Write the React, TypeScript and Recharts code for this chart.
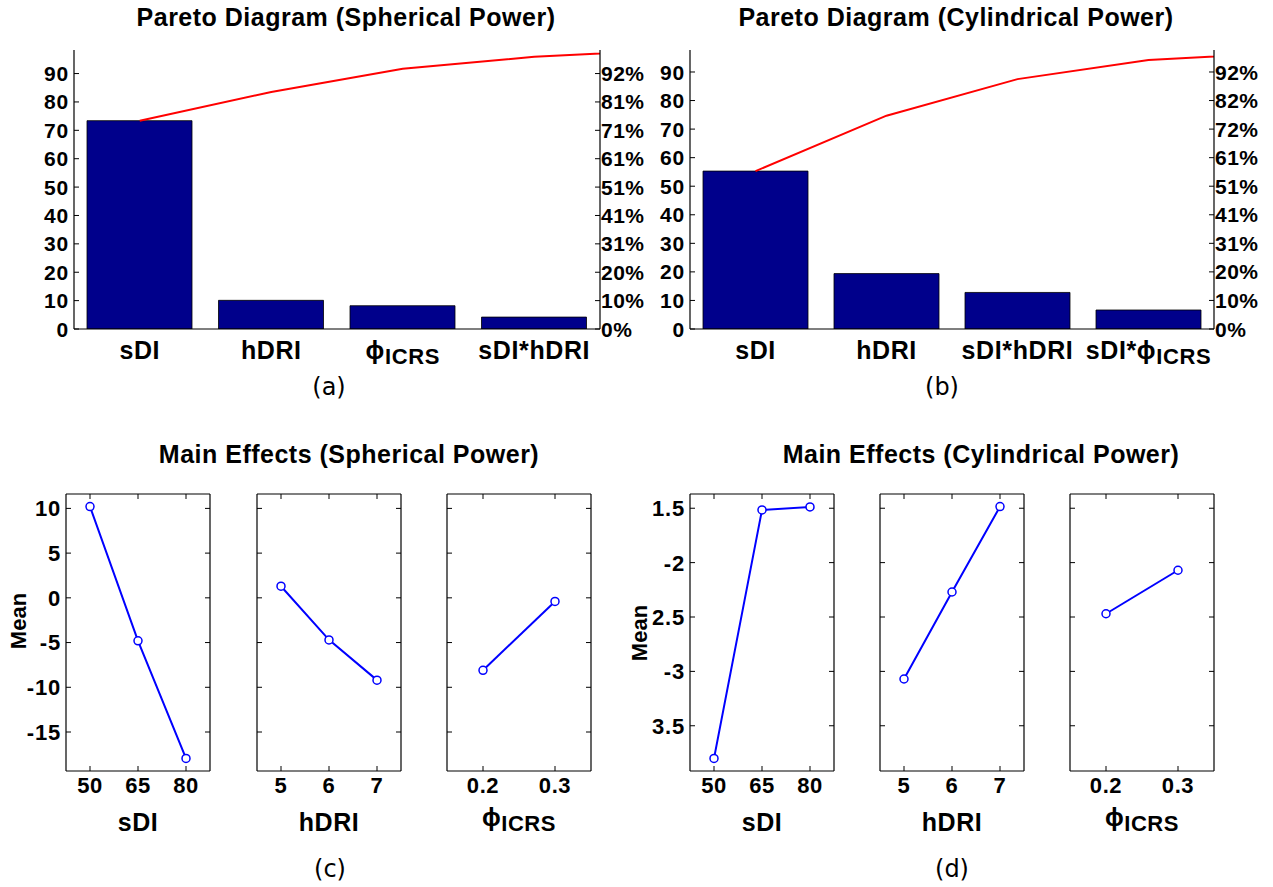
import React from 'react';
import { ComposedChart, LineChart, Bar, Line, XAxis, YAxis } from 'recharts';

const BOLD = '"Liberation Sans", Arial, Helvetica, sans-serif';
const CAPTION = '"DejaVu Sans", Verdana, sans-serif';

// Pareto (a): spherical power
const sphFactors = ['sDI', 'hDRI', 'ϕ_ICRS', 'sDI*hDRI'];
const sphEffects = [73.4, 10.1, 8.2, 4.2];
const sphCumulative = [73.4, 83.5, 91.7, 95.9, 98.3]; // last point lies past the axis
const sphTotal = 98.3;

// Pareto (b): cylindrical power
const cylFactors = ['sDI', 'hDRI', 'sDI*hDRI', 'sDI*ϕ_ICRS'];
const cylEffects = [55.3, 19.4, 12.8, 6.65];
const cylCumulative = [55.3, 74.7, 87.5, 94.2, 96.6];
const cylTotal = 97.7;

const paretoTicks = [0, 10, 20, 30, 40, 50, 60, 70, 80, 90];

// Main effects
const sdiLevels = ['50', '65', '80'];
const hdriLevels = ['5', '6', '7'];
const phiLevels = ['0.2', '0.3'];

const sphMeanSdi = [10.2, -4.8, -17.95];
const sphMeanHdri = [1.3, -4.7, -9.2];
const sphMeanPhi = [-8.1, -0.4];
const sphMeanDomain = [-19.36, 11.61];
const sphMeanTicks = [-15, -10, -5, 0, 5, 10];
const sphMeanTickLabels = ['-15', '-10', '-5', '0', '5', '10'];

const cylMeanSdi = [-3.8, -1.515, -1.488];
const cylMeanHdri = [-3.07, -2.27, -1.485];
const cylMeanPhi = [-2.47, -2.07];
const cylMeanDomain = [-3.916, -1.369];
const cylMeanTicks = [-3.5, -3, -2.5, -2, -1.5];
const cylMeanTickLabels = ['3.5', '-3', '2.5', '-2', '1.5'];

const AXIS = { stroke: '#000', strokeWidth: 1.2 };
const TXT = { fontFamily: BOLD, fontWeight: 'bold' as const, fill: '#000' };

// "ϕ_ICRS" -> ϕ with ICRS as a subscript
function labelSpans(text: string, size: number) {
  const [main, sub] = text.split('_');
  return (
    <>
      <tspan>{main}</tspan>
      {sub ? <tspan fontSize={size - 3} dy={5}>{sub}</tspan> : null}
    </>
  );
}

const leftTick = (size: number, fmt: (v: number) => string) => (p: any) => (
  <g>
    <line x1={p.x} x2={p.x + 5} y1={p.y} y2={p.y} stroke="#000" />
    <text x={p.x - 5} y={p.y} dy="0.36em" textAnchor="end" fontSize={size} letterSpacing={0.8} {...TXT}>
      {fmt(p.payload.value)}
    </text>
  </g>
);

const rightTick = (size: number, fmt: ((v: number) => string) | null) => (p: any) => (
  <g>
    <line x1={p.x} x2={p.x - 5} y1={p.y} y2={p.y} stroke="#000" />
    {fmt ? (
      <text x={p.x + 1} y={p.y} dy="0.36em" textAnchor="start" fontSize={size} letterSpacing={0.5} {...TXT}>
        {fmt(p.payload.value)}
      </text>
    ) : null}
  </g>
);

const bottomTick = (labels: string[], size: number, gap: number, tickLen: number) => (p: any) => (
  <g>
    {tickLen > 0 ? <line x1={p.x} x2={p.x} y1={p.y} y2={p.y - tickLen} stroke="#000" /> : null}
    <text x={p.x} y={p.y + gap} textAnchor="middle" fontSize={size} letterSpacing={0.6} {...TXT}>
      {labelSpans(labels[p.payload.value - 1], size)}
    </text>
  </g>
);

const topTick = (p: any) => <line x1={p.x} x2={p.x} y1={p.y} y2={p.y + 5} stroke="#000" />;

function Pareto({ left, width, leftWidth, rightWidth, factors, effects, cumulative, total }: any) {
  const data = cumulative.map((c: number, i: number) => ({
    pos: i + 1,
    effect: i < effects.length ? effects[i] : null,
    cum: c,
  }));
  const pct = (v: number) => `${Math.round((v / total) * 100)}%`;
  return (
    <div style={{ position: 'absolute', left, top: 0 }}>
      <ComposedChart width={width} height={400} data={data} margin={{ top: 50, right: 0, bottom: 0, left: 0 }}>
        <XAxis
          dataKey="pos"
          type="number"
          domain={[0.5, 4.5]}
          allowDataOverflow
          ticks={[1, 2, 3, 4]}
          interval={0}
          height={71}
          tickSize={0}
          tickMargin={0}
          tickLine={false}
          axisLine={AXIS}
          tick={bottomTick(factors, 25, 30, 0)}
        />
        <YAxis
          yAxisId="l"
          width={leftWidth}
          domain={[0, total]}
          allowDataOverflow
          ticks={paretoTicks}
          interval={0}
          tickSize={0}
          tickMargin={0}
          tickLine={false}
          axisLine={AXIS}
          tick={leftTick(21, (v) => String(v))}
        />
        <YAxis
          yAxisId="r"
          orientation="right"
          width={rightWidth}
          domain={[0, total]}
          allowDataOverflow
          ticks={paretoTicks}
          interval={0}
          tickSize={0}
          tickMargin={0}
          tickLine={false}
          axisLine={AXIS}
          tick={rightTick(21, pct)}
        />
        <Bar yAxisId="l" dataKey="effect" fill="#00008b" stroke="#000" strokeWidth={0.8} barSize={105} isAnimationActive={false} />
        <Line yAxisId="r" type="linear" dataKey="cum" stroke="#ff0000" strokeWidth={2} dot={false} isAnimationActive={false} />
      </ComposedChart>
    </div>
  );
}

function EffectPanel({ frameLeft, levels, means, domain, ticks, tickLabels, showLabels }: any) {
  const data = means.map((m: number, i: number) => ({ pos: i + 1, mean: m }));
  const n = levels.length;
  const pos = levels.map((_: string, i: number) => i + 1);
  const yw = showLabels ? 60 : 12;
  const fmt = (v: number) => (showLabels ? tickLabels[ticks.indexOf(v)] : '');
  return (
    <div style={{ position: 'absolute', left: frameLeft - yw, top: 480 }}>
      <LineChart width={yw + 144 + 12} height={361} data={data} margin={{ top: 4, right: 0, bottom: 0, left: 0 }}>
        <XAxis
          xAxisId="b"
          dataKey="pos"
          type="number"
          domain={[0.5, n + 0.5]}
          ticks={pos}
          interval={0}
          height={70}
          tickSize={0}
          tickMargin={0}
          tickLine={false}
          axisLine={AXIS}
          tick={bottomTick(levels, 22, 22, 5)}
        />
        <XAxis
          xAxisId="t"
          orientation="top"
          dataKey="pos"
          type="number"
          domain={[0.5, n + 0.5]}
          ticks={pos}
          interval={0}
          height={10}
          tickSize={0}
          tickMargin={0}
          tickLine={false}
          axisLine={AXIS}
          tick={topTick}
        />
        <YAxis
          yAxisId="l"
          width={yw}
          domain={domain}
          allowDataOverflow
          ticks={ticks}
          interval={0}
          tickSize={0}
          tickMargin={0}
          tickLine={false}
          axisLine={AXIS}
          tick={leftTick(22, fmt)}
        />
        <YAxis
          yAxisId="r"
          orientation="right"
          width={12}
          domain={domain}
          allowDataOverflow
          ticks={ticks}
          interval={0}
          tickSize={0}
          tickMargin={0}
          tickLine={false}
          axisLine={AXIS}
          tick={rightTick(22, null)}
        />
        <Line
          xAxisId="b"
          yAxisId="r"
          type="linear"
          dataKey="mean"
          stroke="#0000ff"
          strokeWidth={2}
          dot={{ r: 4, stroke: '#0000ff', strokeWidth: 1.5, fill: '#fff' }}
          isAnimationActive={false}
        />
        <Line xAxisId="t" yAxisId="l" dataKey="mean" stroke="none" dot={false} isAnimationActive={false} />
      </LineChart>
    </div>
  );
}

const Title = ({ x, y, children }: any) => (
  <text x={x} y={y} textAnchor="middle" fontSize={25} letterSpacing={0.5} {...TXT}>
    {children}
  </text>
);

const Caption = ({ x, y, children }: any) => (
  <text x={x} y={y} textAnchor="middle" dominantBaseline="central" fontSize={24} fontFamily={CAPTION} fill="#000">
    {children}
  </text>
);

const AxisName = ({ x, y, text }: any) => (
  <text x={x} y={y} textAnchor="middle" fontSize={25} letterSpacing={0.5} {...TXT}>
    {labelSpans(text, 25)}
  </text>
);

const MeanLabel = ({ x, y }: any) => (
  <text transform={`translate(${x},${y}) rotate(-90)`} textAnchor="middle" fontSize={22} {...TXT}>
    Mean
  </text>
);

export default function App() {
  return (
    <div style={{ position: 'absolute', left: 0, top: 0, width: 1273, height: 887, background: '#fff', overflow: 'hidden' }}>
      <Pareto left={0} width={645} leftWidth={74} rightWidth={45} factors={sphFactors} effects={sphEffects} cumulative={sphCumulative} total={sphTotal} />
      <Pareto left={645} width={628} leftWidth={45} rightWidth={59} factors={cylFactors} effects={cylEffects} cumulative={cylCumulative} total={cylTotal} />

      <EffectPanel frameLeft={66} levels={sdiLevels} means={sphMeanSdi} domain={sphMeanDomain} ticks={sphMeanTicks} tickLabels={sphMeanTickLabels} showLabels />
      <EffectPanel frameLeft={257} levels={hdriLevels} means={sphMeanHdri} domain={sphMeanDomain} ticks={sphMeanTicks} tickLabels={sphMeanTickLabels} showLabels={false} />
      <EffectPanel frameLeft={447} levels={phiLevels} means={sphMeanPhi} domain={sphMeanDomain} ticks={sphMeanTicks} tickLabels={sphMeanTickLabels} showLabels={false} />

      <EffectPanel frameLeft={690} levels={sdiLevels} means={cylMeanSdi} domain={cylMeanDomain} ticks={cylMeanTicks} tickLabels={cylMeanTickLabels} showLabels />
      <EffectPanel frameLeft={880} levels={hdriLevels} means={cylMeanHdri} domain={cylMeanDomain} ticks={cylMeanTicks} tickLabels={cylMeanTickLabels} showLabels={false} />
      <EffectPanel frameLeft={1070} levels={phiLevels} means={cylMeanPhi} domain={cylMeanDomain} ticks={cylMeanTicks} tickLabels={cylMeanTickLabels} showLabels={false} />

      <svg width={1273} height={887} style={{ position: 'absolute', left: 0, top: 0, pointerEvents: 'none' }}>
        <Title x={346} y={26}>Pareto Diagram (Spherical Power)</Title>
        <Title x={956} y={26}>Pareto Diagram (Cylindrical Power)</Title>
        <Title x={349} y={463}>Main Effects (Spherical Power)</Title>
        <Title x={981} y={463}>Main Effects (Cylindrical Power)</Title>

        <Caption x={329} y={387}>(a)</Caption>
        <Caption x={942} y={387}>(b)</Caption>
        <Caption x={330} y={869}>(c)</Caption>
        <Caption x={952} y={869}>(d)</Caption>

        <AxisName x={138} y={831} text="sDI" />
        <AxisName x={329} y={831} text="hDRI" />
        <AxisName x={519} y={826} text="ϕ_ICRS" />
        <AxisName x={762} y={831} text="sDI" />
        <AxisName x={952} y={831} text="hDRI" />
        <AxisName x={1142} y={826} text="ϕ_ICRS" />

        <MeanLabel x={26} y={621} />
        <MeanLabel x={647} y={633} />
      </svg>
    </div>
  );
}
